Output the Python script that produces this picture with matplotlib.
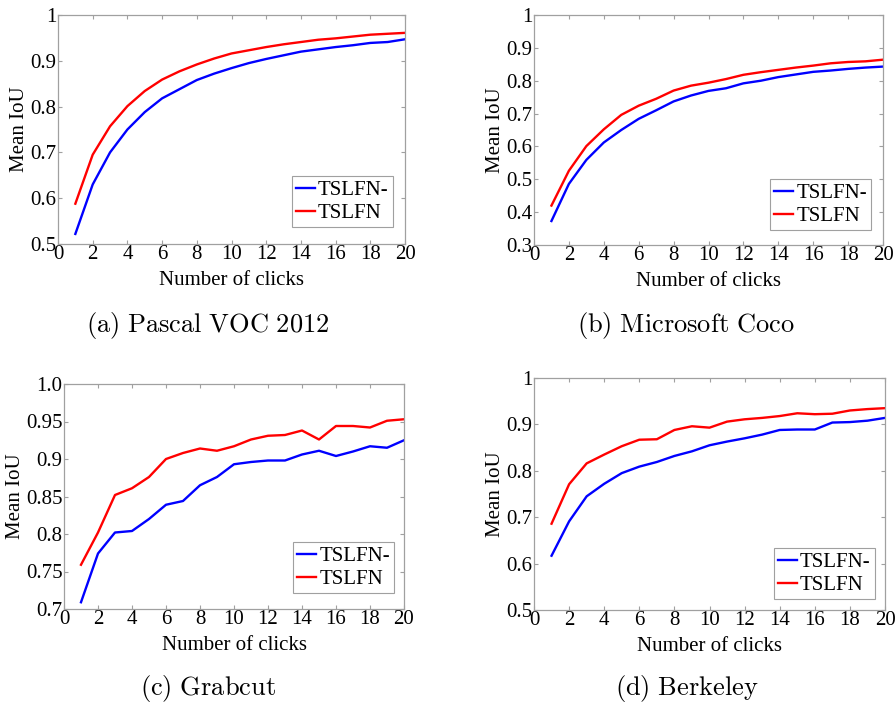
import matplotlib
matplotlib.use('Agg')
import matplotlib.pyplot as plt
import numpy as np

clicks = np.arange(1, 21)

# (a) Pascal VOC 2012
voc_minus = [0.522, 0.630, 0.700, 0.750, 0.788, 0.818, 0.838, 0.858, 0.872, 0.884,
             0.895, 0.904, 0.912, 0.920, 0.925, 0.930, 0.934, 0.939, 0.941, 0.947]
voc_full = [0.588, 0.695, 0.757, 0.801, 0.834, 0.859, 0.877, 0.892, 0.905, 0.916,
            0.923, 0.930, 0.936, 0.941, 0.946, 0.949, 0.953, 0.957, 0.959, 0.961]

# (b) Microsoft Coco
coco_minus = [0.373, 0.486, 0.559, 0.612, 0.650, 0.684, 0.710, 0.737, 0.755, 0.769,
              0.777, 0.792, 0.800, 0.811, 0.819, 0.827, 0.831, 0.836, 0.840, 0.843]
coco_full = [0.420, 0.526, 0.601, 0.652, 0.696, 0.724, 0.745, 0.770, 0.785, 0.794,
             0.805, 0.818, 0.826, 0.833, 0.840, 0.846, 0.853, 0.857, 0.859, 0.864]

# (c) Grabcut
grab_minus = [0.709, 0.774, 0.802, 0.804, 0.820, 0.839, 0.844, 0.865, 0.876, 0.893,
              0.896, 0.898, 0.898, 0.906, 0.911, 0.904, 0.910, 0.917, 0.915, 0.925]
grab_full = [0.759, 0.802, 0.852, 0.861, 0.876, 0.900, 0.908, 0.914, 0.911, 0.917,
             0.926, 0.931, 0.932, 0.938, 0.926, 0.944, 0.944, 0.942, 0.951, 0.953]

# (d) Berkeley
berk_minus = [0.617, 0.691, 0.745, 0.772, 0.795, 0.809, 0.819, 0.832, 0.842, 0.855,
              0.863, 0.870, 0.878, 0.888, 0.889, 0.889, 0.904, 0.905, 0.908, 0.914]
berk_full = [0.686, 0.771, 0.816, 0.835, 0.853, 0.867, 0.868, 0.888, 0.896, 0.893,
             0.906, 0.911, 0.914, 0.918, 0.924, 0.922, 0.923, 0.930, 0.933, 0.935]

panels = [
    ('(a)\\ Pascal\\ VOC\\ 2012', voc_minus, voc_full, (0.5, 1.0),
     [0.5, 0.6, 0.7, 0.8, 0.9, 1.0], ['0.5', '0.6', '0.7', '0.8', '0.9', '1']),
    ('(b)\\ Microsoft\\ Coco', coco_minus, coco_full, (0.3, 1.0),
     [0.3, 0.4, 0.5, 0.6, 0.7, 0.8, 0.9, 1.0],
     ['0.3', '0.4', '0.5', '0.6', '0.7', '0.8', '0.9', '1']),
    ('(c)\\ Grabcut', grab_minus, grab_full, (0.7, 1.0),
     [0.7, 0.75, 0.8, 0.85, 0.9, 0.95, 1.0],
     ['0.7', '0.75', '0.8', '0.85', '0.9', '0.95', '1.0']),
    ('(d)\\ Berkeley', berk_minus, berk_full, (0.5, 1.0),
     [0.5, 0.6, 0.7, 0.8, 0.9, 1.0], ['0.5', '0.6', '0.7', '0.8', '0.9', '1']),
]

# pixel boxes (left, top, right, bottom) and legend anchors
boxes = [(58, 15, 405, 244), (534, 15, 883, 245), (64, 384, 404, 609), (534, 378, 885, 610)]
anchors = [(0.965, 0.074), (0.966, 0.065), (0.971, 0.071), (0.971, 0.047)]
captions_xy = [(208, 325), (686, 325), (208, 688), (687, 688)]

W, H = 896, 702
plt.rcParams['font.family'] = ['Liberation Serif', 'DejaVu Serif']
plt.rcParams['mathtext.fontset'] = 'cm'
FS = 15
grey = '#a0a0a0'

fig = plt.figure(figsize=(W / 100, H / 100), dpi=100)

for (cap, ym, yf, ylim, yt, ytl), (l, t, r, b), anc, (cx, cy) in zip(panels, boxes, anchors, captions_xy):
    ax = fig.add_axes([l / W, 1 - b / H, (r - l) / W, (b - t) / H])
    line1, = ax.plot(clicks, ym, color='#0000ff', lw=1.7)
    line2, = ax.plot(clicks, yf, color='#ff0000', lw=1.7)
    ax.set_xlim(0, 20)
    ax.set_ylim(*ylim)
    ax.set_xticks(range(0, 21, 2))
    ax.set_yticks(yt)
    ax.set_yticklabels(ytl)
    ax.tick_params(direction='in', length=3, width=0.8, color=grey,
                   top=True, right=True, labelsize=FS, pad=1)
    for sp in ax.spines.values():
        sp.set_color(grey)
        sp.set_linewidth(0.9)
    ax.set_xlabel('Number of clicks', fontsize=FS, labelpad=5)
    ax.set_ylabel('Mean IoU', fontsize=FS, labelpad=1)
    leg = ax.legend([line1, line2], ['TSLFN-', 'TSLFN'], loc='lower right',
                    bbox_to_anchor=anc, borderaxespad=0, fontsize=FS,
                    fancybox=False, framealpha=1, edgecolor=grey,
                    handlelength=0.9, handletextpad=0.15, labelspacing=0.15,
                    borderpad=0.2)
    leg.get_frame().set_linewidth(0.8)
    fig.text(cx / W, 1 - cy / H, '$\\mathrm{' + cap + '}$', ha='center', va='center',
             fontsize=19)

fig.savefig('out.png', dpi=100)
